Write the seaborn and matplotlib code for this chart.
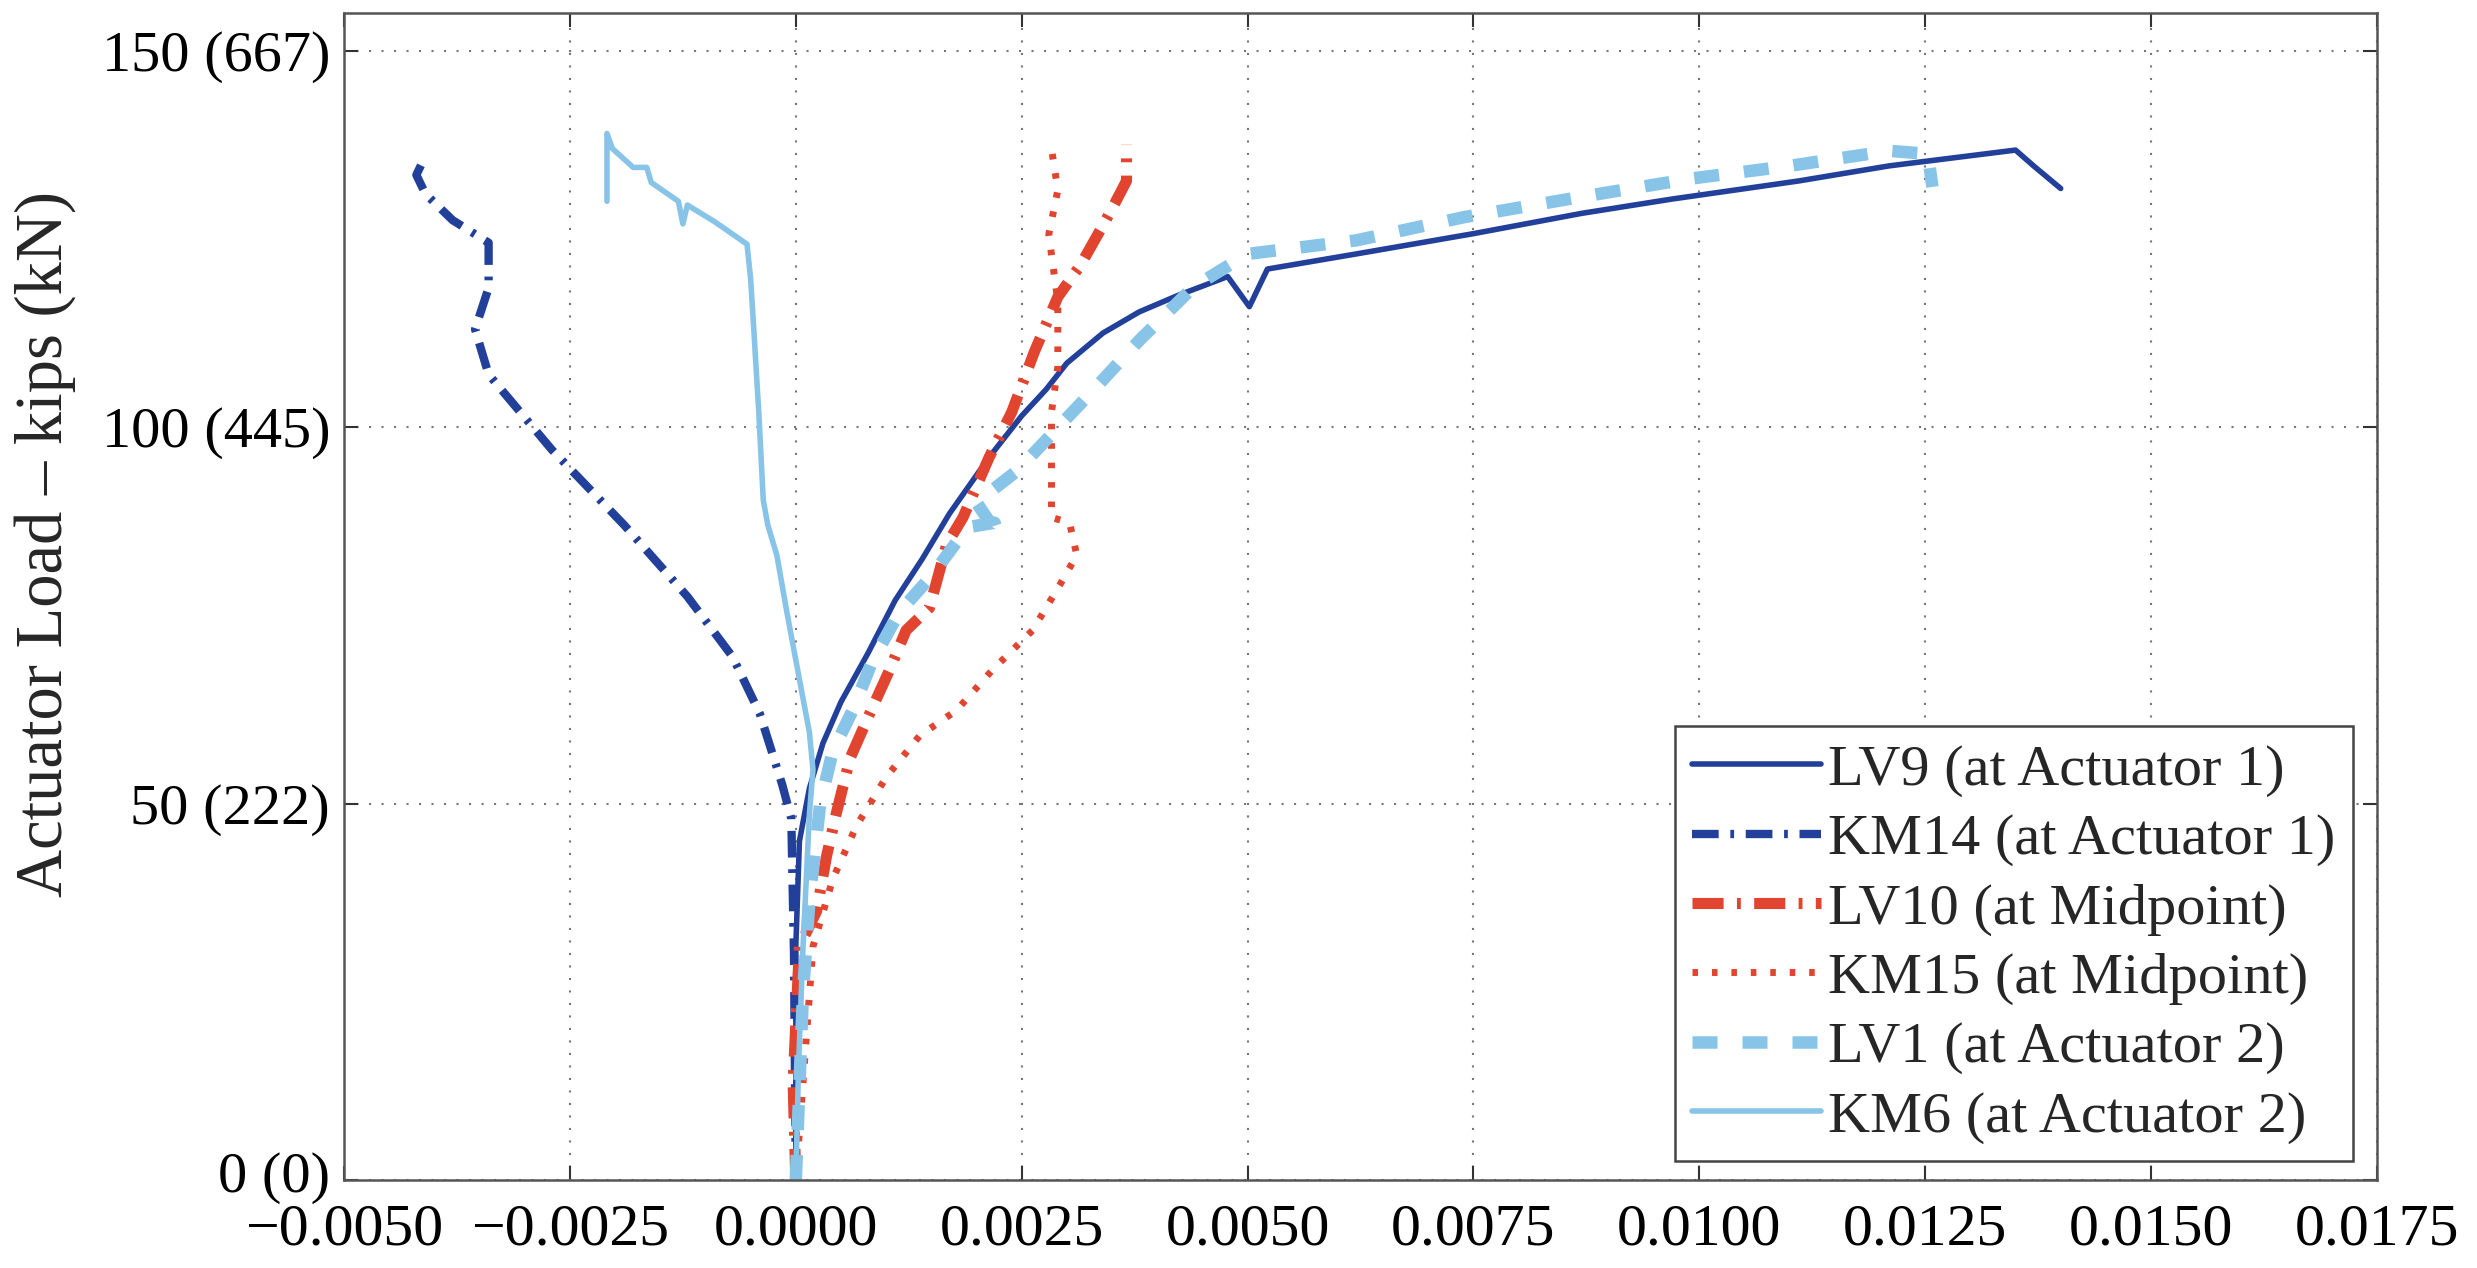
import pandas as pd
import matplotlib
matplotlib.use("Agg")
import matplotlib.pyplot as plt
import matplotlib.transforms as mtransforms
import seaborn as sns

# strain readings (x) and actuator load in kips (y)
lv9_x = [0, 0.0, 0.00004, 0.00015, 0.0003, 0.0005, 0.0008, 0.0011, 0.0014, 0.0017,
         0.00214, 0.0025, 0.00277, 0.0030, 0.0034, 0.0038, 0.00423, 0.00478, 0.00502,
         0.00522, 0.0062, 0.0075, 0.0087, 0.0097, 0.0111, 0.0121, 0.0135, 0.0137, 0.0140]
lv9_y = [0, 31, 45, 52, 58, 63.5, 70, 77, 82.5, 88.5,
         96, 101.5, 105, 108.5, 112.5, 115.3, 117.5, 120, 116,
         121, 123, 125.7, 128.4, 130.3, 132.7, 134.7, 136.8, 134.7, 131.7]

km14_x = [0, -0.00002, -0.00005, -0.00015, -0.0004, -0.0007, -0.0012, -0.0019,
          -0.0027, -0.0034, -0.00355, -0.0034, -0.0034, -0.0038, -0.0041, -0.0042, -0.0041]
km14_y = [0, 30, 48, 52.5, 62, 69.5, 77.5, 87,
          97, 107, 113, 118.5, 124.5, 127.5, 131, 133.5, 136]

lv10_x = [0, -0.00003, 0.00004, 0.00023, 0.00034, 0.00045, 0.0006, 0.00082, 0.00104,
          0.00122, 0.00148, 0.00167, 0.00185, 0.00214, 0.00239, 0.00264, 0.0029,
          0.00315, 0.0034, 0.00353, 0.00366, 0.00366]
lv10_y = [0, 13, 31, 35.7, 43, 48.8, 56, 62, 67.8,
          73, 76, 84.4, 88, 96, 102, 110, 117.3,
          121.5, 126.8, 129.7, 132.7, 137.5]

km15_x = [0, 0.00008, 0.00019, 0.00041, 0.00067, 0.001, 0.00137, 0.00178, 0.00218,
          0.00262, 0.00292, 0.00311, 0.00303, 0.00283, 0.00283, 0.0029, 0.0029,
          0.0028, 0.0029, 0.00283]
km15_y = [0, 13, 31, 40, 47, 53.5, 59, 62.4, 67.8,
          73, 79, 83, 87.3, 88, 102, 108, 116.7,
          125.6, 131.5, 137]

lv1_x = [0, 0.00008, 0.00015, 0.00027, 0.00041, 0.00063, 0.00085, 0.00115, 0.0015,
         0.0019, 0.0022, 0.00225, 0.0020, 0.00245, 0.00296, 0.0033, 0.0038, 0.0044,
         0.0050, 0.0062, 0.0074, 0.0087, 0.0099, 0.011, 0.0121, 0.01253, 0.01258]
lv1_y = [0, 25, 37, 50, 57, 62.4, 69, 75.5, 80.2,
         86.7, 87.3, 85.5, 90, 94.2, 100.7, 105, 111.5, 118.6,
         123, 124.8, 127.9, 130.6, 133, 134.7, 136.7, 136.3, 131.9]

km6_x = [0, 0.00003, 0.00008, 0.00015, 0.00019, 0.00015, 0.00004, -0.0001, -0.00021,
         -0.00031, -0.00036, -0.00041, -0.00046, -0.0005, -0.00054, -0.0009, -0.0012,
         -0.00125, -0.0013, -0.0016, -0.00165, -0.0018, -0.00203, -0.00209, -0.00209]
km6_y = [0, 15, 31, 48.5, 54.5, 59.5, 66.5, 75.5, 83,
         87, 90.3, 102, 112, 119.7, 124.3, 127.3, 129.5,
         127, 130, 132.5, 134.5, 134.5, 137, 139, 130]

labels = ["LV9 (at Actuator 1)", "KM14 (at Actuator 1)", "LV10 (at Midpoint)",
          "KM15 (at Midpoint)", "LV1 (at Actuator 2)", "KM6 (at Actuator 2)"]
x_ticks = [-0.005, -0.0025, 0.0, 0.0025, 0.005, 0.0075, 0.01, 0.0125, 0.015, 0.0175]
y_ticks = [0, 50, 100, 150]
y_ticklabels = ["0 (0)", "50 (222)", "100 (445)", "150 (667)"]

series = [(lv9_x, lv9_y), (km14_x, km14_y), (lv10_x, lv10_y),
          (km15_x, km15_y), (lv1_x, lv1_y), (km6_x, km6_y)]

navy = "#22409a"
red = "#e2452f"
light = "#88c4e8"
styles = [
    dict(color=navy, linewidth=4.0, linestyle="-"),
    dict(color=navy, linewidth=6.0, linestyle=(0, (3.2, 1.4, 0.45, 1.4))),
    dict(color=red, linewidth=8.0, linestyle=(0, (2.8, 1.2, 0.35, 1.2))),
    dict(color=red, linewidth=5.0, linestyle=(0, (0.8, 2.0))),
    dict(color=light, linewidth=9.0, linestyle=(0, (2.0, 2.0))),
    dict(color=light, linewidth=4.0, linestyle="-"),
]

sns.set_theme(style="ticks")
plt.rcParams["font.family"] = ["Liberation Serif", "DejaVu Serif"]

fig, ax = plt.subplots(figsize=(24.77, 12.68), dpi=100)
fig.subplots_adjust(left=0.1389, right=0.9596, bottom=0.0694, top=0.9897)

for (xs, ys), lab, st in zip(series, labels, styles):
    df = pd.DataFrame({"strain": xs, "load": ys})
    sns.lineplot(data=df, x="strain", y="load", sort=False, estimator=None,
                 ax=ax, label=lab, **st)

ax.set_xlim(-0.005, 0.0175)
ax.set_ylim(0, 155)
ax.set_xticks(x_ticks)
ax.set_xticklabels([f"{v:.4f}".replace("-", "\u2212") for v in x_ticks])
ax.set_yticks(y_ticks)
ax.set_yticklabels(y_ticklabels)
ax.set_xlabel("")
ax.set_ylabel("Actuator Load \u2013 kips (kN)", fontsize=48)
ax.yaxis.set_label_coords(-0.132, 0.545)

ax.tick_params(axis="both", direction="in", length=10, width=1.5,
               colors="#333333", labelcolor="black", top=True, right=True)
ax.tick_params(axis="x", pad=17, labelsize=43)
ax.tick_params(axis="y", pad=10, labelsize=42)
ax.grid(True, linestyle=(0, (1, 5)), color="#777777", linewidth=1.5)
for sp in ax.spines.values():
    sp.set_color("#555555")
    sp.set_linewidth(1.8)

# lift the "0 (0)" label a little so it clears the first x tick label
zero_lab = ax.get_yticklabels()[0]
zero_lab.set_transform(zero_lab.get_transform() +
                       mtransforms.ScaledTranslation(0, 6 / 72, fig.dpi_scale_trans))

leg = ax.legend(loc="lower right", bbox_to_anchor=(0.988, 0.016), borderaxespad=0,
                fontsize=42, frameon=True, fancybox=False, framealpha=1,
                edgecolor="#444444", handlelength=2.2, handletextpad=0.12,
                labelspacing=0.28, borderpad=0.3)
leg.get_frame().set_linewidth(1.8)

plt.savefig("out.png", dpi=100)
